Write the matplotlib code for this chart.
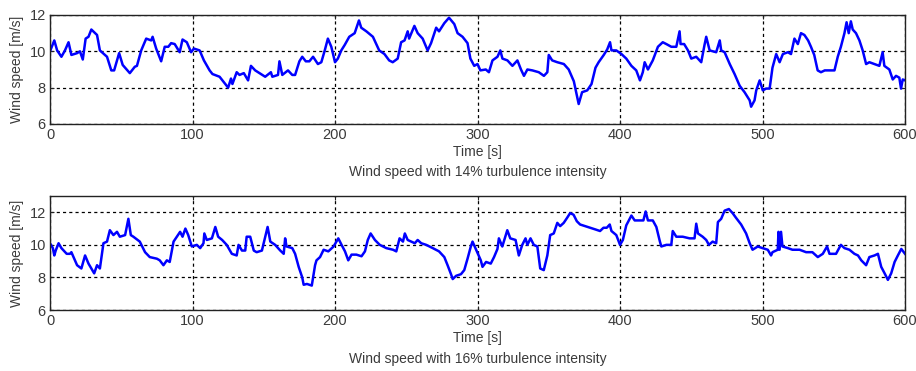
import numpy as np
import matplotlib
matplotlib.use("Agg")
import matplotlib.pyplot as plt

plt.rcParams['font.family'] = ['Liberation Sans', 'DejaVu Sans']

# Serie 1: intensidad de turbulencia 14 %
t_14 = [0, 3, 5, 8, 10.5, 13, 15, 19, 21, 23, 25, 27, 29, 33, 35, 40, 43, 45, 48.5, 51,
        56, 59.5, 61, 64, 67.5, 71, 72, 74.5, 78, 80.5, 83, 85, 87.5, 91, 93, 96, 99, 101,
        105, 108, 112, 114, 119, 122, 125, 127, 128, 131, 133, 136, 139, 141, 144, 148,
        151, 155, 156, 160, 161, 163, 167, 170, 172, 175, 177, 179.5, 182, 184.6, 188,
        190.4, 192.8, 195, 197.4, 200, 202, 204.4, 206.8, 210, 213.8, 216.8, 218.4, 222,
        226.6, 231, 234.7, 238, 240.5, 244, 246.4, 248.8, 251, 252, 255.7, 258, 261.5, 265,
        267.4, 271, 273, 276.7, 280, 283.7, 286, 289.5, 293, 295, 297.7, 300, 302, 305.8,
        308, 310.5, 314, 316, 317.5, 321, 324.5, 328, 330.5, 332.6, 335, 338.5, 343, 346.6,
        349, 350, 352.4, 356, 360.6, 364, 367.6, 370, 371, 373.4, 377, 380, 382.8, 385,
        388.6, 391, 393, 394, 397.4, 401, 404.4, 408, 411.4, 414, 416, 417.3, 419.6, 423,
        426.6, 430, 432.5, 436, 439.5, 441.8, 442.5, 445, 447.7, 450, 453.5, 457, 459.3,
        460.5, 462.9, 467.5, 470, 471, 473.4, 477, 480.4, 484, 487.4, 491, 492, 494.4,
        495.6, 498, 500.2, 502.6, 505, 507, 509.6, 512, 514.3, 517.8, 520, 522.4, 524.8,
        527, 529.4, 532, 534, 536.3, 538.7, 541, 543.7, 547, 550.5, 552.8, 555, 557.5, 559,
        560.5, 562, 563.3, 565.6, 568, 570.3, 572.7, 575, 578.5, 582, 584.3, 585.5, 589,
        591.4, 593.7, 596, 597.2, 598.4, 600]
v_14 = [10.0, 10.6, 10.05, 9.7, 10.05, 10.5, 9.8, 9.9, 10.0, 9.55, 10.7, 10.8, 11.2, 10.9,
        10.05, 9.7, 8.95, 8.95, 9.9, 9.25, 8.8, 9.15, 9.2, 10.05, 10.7, 10.6, 10.8, 10.15,
        9.45, 10.25, 10.25, 10.45, 10.4, 9.95, 10.65, 10.5, 9.95, 10.15, 10.05, 9.5, 8.95,
        8.75, 8.6, 8.3, 8.0, 8.5, 8.2, 8.85, 8.7, 8.8, 8.4, 9.2, 8.95, 8.75, 8.6, 8.85, 8.6,
        8.7, 9.45, 8.7, 8.95, 8.7, 8.7, 9.45, 9.7, 9.45, 9.45, 9.7, 9.3, 9.4, 10.05, 10.7,
        10.25, 9.4, 9.6, 10.05, 10.35, 10.8, 11.0, 11.7, 11.3, 11.1, 10.8, 10.05, 9.85, 9.5,
        9.4, 9.6, 10.5, 10.6, 11.1, 10.7, 11.4, 11.0, 10.7, 10.05, 10.45, 11.3, 11.1, 11.55,
        11.85, 11.5, 11.0, 10.8, 10.45, 9.6, 9.2, 9.3, 8.95, 9.0, 8.85, 9.5, 9.7, 10.05,
        9.6, 9.5, 9.2, 9.5, 9.0, 8.65, 9.0, 8.95, 8.85, 8.65, 8.85, 9.8, 9.5, 9.4, 9.3, 9.0,
        8.35, 7.45, 7.1, 7.75, 7.85, 8.2, 9.1, 9.4, 9.8, 10.1, 10.5, 10.05, 10.05, 9.85,
        9.6, 9.2, 8.95, 8.4, 8.85, 9.4, 9.0, 9.5, 10.25, 10.5, 10.4, 10.25, 10.25, 11.1,
        10.4, 10.4, 10.05, 9.6, 9.7, 9.4, 10.35, 10.8, 10.05, 9.95, 10.6, 10.05, 9.95, 9.3,
        8.75, 8.1, 7.75, 7.3, 6.95, 7.3, 7.85, 8.4, 7.85, 7.95, 7.95, 9.1, 9.85, 9.4, 9.85,
        9.95, 9.85, 10.7, 10.4, 11.0, 10.9, 10.6, 10.25, 9.8, 8.95, 8.85, 8.95, 8.95, 8.95,
        9.7, 10.25, 11.0, 11.6, 11.0, 11.65, 11.2, 11.0, 10.6, 10.05, 9.3, 9.4, 9.3, 9.2,
        9.95, 9.2, 9.0, 8.45, 8.65, 8.55, 7.95, 8.45, 8.4]

# Serie 2: intensidad de turbulencia 16 %
t_16 = [0, 2, 3, 4, 6, 8, 11.7, 14, 15, 17.5, 19, 22, 24.6, 27, 29, 31, 33, 35, 37.5, 40,
        42, 44.5, 47, 49, 52.7, 55, 56.7, 58.5, 63, 66.7, 70, 75, 77, 79.6, 82, 84, 86.7,
        89, 91.3, 93, 95, 97, 99.5, 103, 105.4, 107.7, 108.3, 110, 113.6, 116, 118, 120.8,
        124, 127.6, 131, 132.3, 134.7, 137, 138, 140.5, 143, 145, 148.7, 151, 152.7, 154.6,
        158, 161.6, 164, 165, 166, 170, 172, 174.5, 177, 178, 180.3, 183.7, 186, 187, 189.5,
        192, 195.3, 199, 202.3, 204.6, 207, 209.3, 211.6, 215, 218.6, 221, 223, 225, 228,
        231.4, 236, 240.7, 243, 245.3, 247.7, 249, 251, 256, 258, 260.5, 264, 268.6, 273,
        276.7, 279, 281.4, 282.6, 285, 288.4, 290.7, 293, 295.3, 296.5, 299, 302.3, 303.5,
        306, 309.3, 311.6, 314, 315, 317.4, 320.9, 323, 326.7, 329, 331.4, 333.7, 335,
        337.2, 339.5, 342, 344, 346.5, 349, 351, 353.5, 356, 358, 360.5, 362.8, 365, 367.4,
        369.7, 372, 375.6, 379, 382.6, 386, 388.4, 390.7, 392.8, 394, 397.4, 400, 402,
        404.4, 408, 410.3, 414, 416.4, 418, 419.6, 423, 425.5, 428, 429, 432.5, 436, 437,
        439.5, 444, 448.8, 452.3, 453.5, 454.7, 458, 460.5, 462.4, 465, 467.5, 468.7, 471,
        473.4, 476.4, 479, 481.5, 485, 488.5, 491, 493, 496.7, 500, 503.7, 506, 507, 510.7,
        511.2, 512, 513, 514, 517.8, 521, 526, 530.6, 535, 538.8, 542.3, 545.3, 547, 551.6,
        555, 557.5, 561, 564.5, 567, 569.3, 572.7, 575, 578.6, 581, 583.3, 585.7, 588,
        590.3, 592.7, 595, 597.4, 600]
v_16 = [10.1, 9.8, 9.35, 9.65, 10.1, 9.8, 9.45, 9.45, 9.55, 9.05, 8.75, 8.55, 9.35, 8.85,
        8.55, 8.25, 8.75, 8.55, 10.1, 10.2, 10.9, 10.6, 10.8, 10.5, 10.6, 11.6, 10.6, 10.5,
        10.2, 9.55, 9.25, 9.15, 9.05, 8.75, 9.05, 8.95, 10.2, 10.5, 10.8, 10.5, 11.0, 10.6,
        9.9, 10.0, 9.8, 10.1, 10.7, 10.3, 10.4, 11.1, 10.5, 10.3, 10.0, 9.45, 9.35, 10.0,
        9.65, 9.65, 10.5, 10.5, 9.65, 9.55, 9.65, 10.5, 11.1, 10.2, 10.0, 9.65, 9.45, 10.4,
        9.9, 9.8, 9.45, 8.65, 8.0, 7.55, 7.6, 7.5, 8.75, 9.05, 9.25, 9.7, 9.6, 9.9, 10.4,
        10.0, 9.6, 9.05, 9.4, 9.4, 9.3, 9.6, 10.3, 10.7, 10.3, 10.0, 9.8, 9.7, 9.6, 10.4,
        10.2, 10.7, 10.3, 10.1, 10.3, 10.1, 10.0, 9.8, 9.6, 9.25, 8.75, 8.2, 7.9, 8.1, 8.2,
        8.45, 9.15, 9.9, 10.2, 9.7, 9.05, 8.65, 8.95, 8.85, 9.25, 9.75, 10.4, 9.9, 10.9,
        10.4, 10.3, 9.35, 10.0, 10.4, 10.0, 10.4, 10.0, 9.9, 8.55, 8.45, 9.35, 10.6, 10.7,
        11.35, 11.15, 11.35, 11.65, 11.95, 11.85, 11.45, 11.25, 11.15, 11.05, 10.95, 10.85,
        11.05, 11.05, 11.25, 10.85, 10.6, 10.0, 10.3, 11.2, 11.8, 11.5, 11.5, 11.5, 12.05,
        11.5, 11.5, 11.1, 10.2, 9.9, 10.0, 10.0, 10.85, 10.5, 10.5, 10.4, 10.4, 11.3, 10.7,
        10.5, 10.3, 10.0, 10.2, 10.1, 11.4, 11.6, 12.1, 12.2, 11.95, 11.65, 11.25, 10.7,
        10.1, 9.7, 9.9, 9.8, 9.7, 9.35, 9.55, 9.7, 10.8, 9.7, 10.8, 9.9, 9.8, 9.7, 9.7,
        9.55, 9.55, 9.25, 9.45, 9.9, 9.45, 9.45, 10.0, 9.8, 9.7, 9.45, 9.35, 9.05, 8.75,
        9.25, 9.35, 9.45, 8.65, 8.25, 7.85, 8.25, 8.95, 9.35, 9.75, 9.45]

titulos = ['Wind speed with 14% turbulence intensity',
           'Wind speed with 16% turbulence intensity']
marcas_x = np.arange(0, 601, 100)
marcas_y = [6, 8, 10, 12]

fig = plt.figure(figsize=(9.16, 3.71), dpi=100)
ax1 = fig.add_axes([0.0546, 0.6658, 0.9334, 0.2938])
ax2 = fig.add_axes([0.0546, 0.1644, 0.9334, 0.3073])

color_texto = '#3a3a3a'
for ax, t, v, titulo, ymax, y_tit in [(ax1, t_14, v_14, titulos[0], 12, -0.44),
                                      (ax2, t_16, v_16, titulos[1], 13, -0.43)]:
    ax.plot(t, v, color='#0000ff', linewidth=1.8)
    ax.set_xlim(0, 600)
    ax.set_ylim(6, ymax)
    ax.set_xticks(marcas_x)
    ax.set_yticks(marcas_y)
    ax.tick_params(direction='in', top=True, right=True, length=3,
                   labelsize=10.5, colors='#222222', labelcolor=color_texto, pad=3)
    ax.grid(True, color='black', linestyle=(0, (2.5, 2.5)), linewidth=0.9)
    for s in ax.spines.values():
        s.set_color('#222222')
        s.set_linewidth(1.0)
    ax.set_ylabel('Wind speed [m/s]', fontsize=10, color=color_texto, labelpad=4)
    ax.set_xlabel('Time [s]', fontsize=10, color=color_texto, labelpad=2)
    # el título va debajo del eje, como en la figura original
    ax.text(0.5, y_tit, titulo, transform=ax.transAxes,
            ha='center', va='center', fontsize=10, color=color_texto)

fig.savefig('out.png', dpi=100)
